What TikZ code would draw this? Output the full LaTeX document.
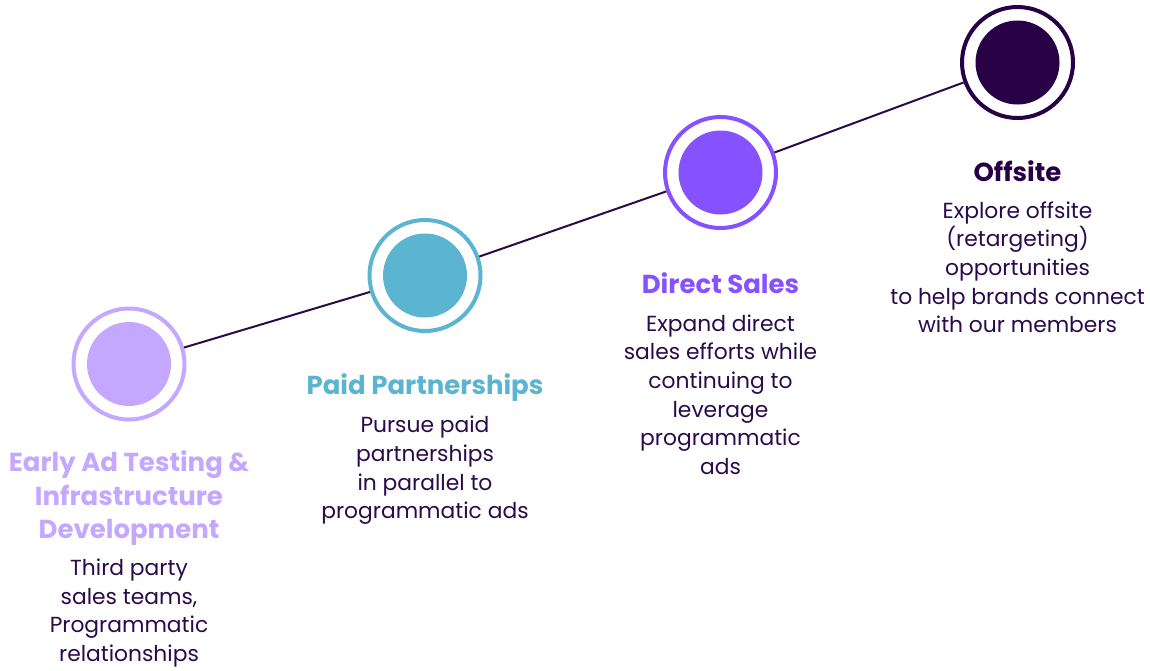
\documentclass[tikz,border=0pt]{standalone}
\usepackage{fontspec}
\setmainfont{Poppins}
\usetikzlibrary{positioning}
\definecolor{Lilac}{HTML}{C4A8FF}
\definecolor{Teal}{HTML}{5BB4D0}
\definecolor{Violet}{HTML}{8652FF}
\definecolor{Plum}{HTML}{280046}
\definecolor{Ink}{HTML}{2A0A4A}

\begin{document}
\begin{tikzpicture}[x=1pt,y=-1pt,node distance=17pt]
	\tikzset{
		ring/.style={circle,draw=#1,line width=4pt,fill=white,minimum size=111pt,inner sep=0pt},
		dot/.style={circle,fill=#1,minimum size=84pt,inner sep=0pt},
		head/.style={font=\fontsize{26}{33.5}\selectfont\bfseries,text=#1,align=center,inner sep=0pt},
		body/.style={font=\fontsize{21.8}{28.6}\selectfont,text=Ink,align=center,inner sep=0pt},
	}
	\useasboundingbox (0,0) rectangle (1150,670);
	
	\node[ring=Lilac] (r1) at (129,364) {};
	\node[ring=Teal] (r2) at (425,275.5) {};
	\node[ring=Violet] (r3) at (720.5,172.5) {};
	\node[ring=Plum] (r4) at (1017.5,62.5) {};
	\foreach \i/\c in {1/Lilac,2/Teal,3/Violet,4/Plum}
		\node[dot=\c] at (r\i) {};
	
	\draw[Ink,line width=2pt] (r1) -- (r2) -- (r3) -- (r4);
	
	\node[head=Lilac,below=29pt of r1] (t1) {Early Ad Testing \&\\ Infrastructure\\ Development};
	\node[head=Teal,below=40pt of r2] (t2) {Paid Partnerships};
	\node[head=Violet,below=42pt of r3] (t3) {Direct Sales};
	\node[head=Plum,below=40pt of r4] (t4) {Offsite};
	
	\node[body,below=13pt of t1] (b1) {Third party\\ sales teams,\\ Programmatic\\ relationships};
	\node[body,below=15pt of t2] (b2) {Pursue paid\\ partnerships\\ in parallel to\\ programmatic ads};
	\node[body,below=21pt of t3] (b3) {Expand direct\\ sales efforts while\\ continuing to\\ leverage\\ programmatic\\ ads};
	\node[body,below=20pt of t4] (b4) {Explore offsite\\ (retargeting)\\ opportunities\\ to help brands connect\\ with our members};
\end{tikzpicture}
\end{document}
